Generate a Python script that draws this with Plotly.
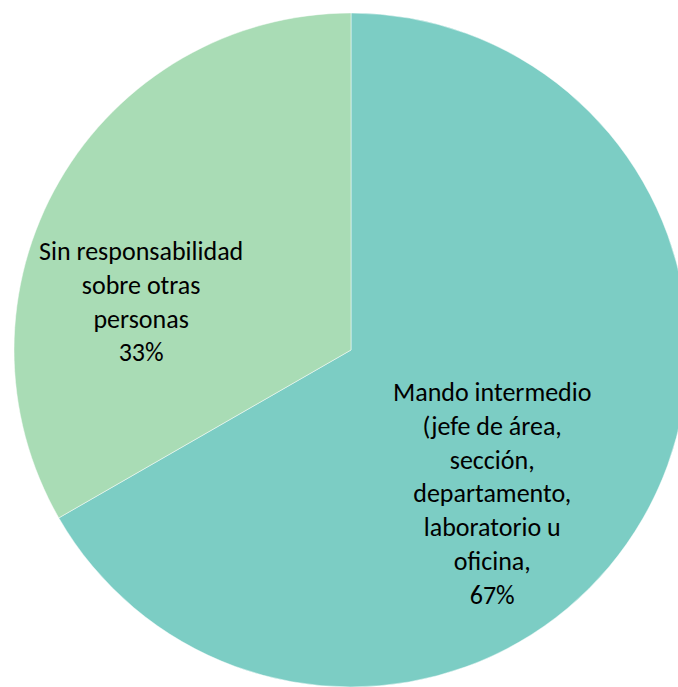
import plotly.graph_objects as go

categories = ["Mando intermedio (jefe de área, sección, departamento, laboratorio u oficina,",
              "Sin responsabilidad sobre otras personas"]
label_lines = [
    ["Mando intermedio", "(jefe de área,", "sección,", "departamento,", "laboratorio u", "oficina,"],
    ["Sin responsabilidad", "sobre otras", "personas"],
]
values = [66.7, 33.3]
colors = ["#7CCDC4", "#A9DCB5"]
label_pos = [(0.7092, 0.2864), (0.1884, 0.5727)]

fig = go.Figure(go.Pie(
    labels=categories,
    values=values,
    sort=False,
    direction="clockwise",
    rotation=0,
    textinfo="none",
    hoverinfo="label+percent",
    marker=dict(colors=colors, line=dict(color="rgba(255,255,255,0.6)", width=0.8)),
    domain=dict(x=[0, 1], y=[0, 1]),
    showlegend=False,
))

total = sum(values)
for lines, v, (x, y) in zip(label_lines, values, label_pos):
    pct = f"{round(100 * v / total)}%"
    txt = "<br>".join(lines) + "<br>" + pct
    fig.add_annotation(
        x=x, y=y, xref="paper", yref="paper",
        text=txt, showarrow=False,
        xanchor="center", yanchor="middle", align="center",
        font=dict(family="Carlito, Lato, sans-serif", size=26, color="#000000"),
    )

fig.update_layout(
    width=702, height=701,
    autosize=False,
    margin=dict(l=14, r=14, t=13, b=14),
    paper_bgcolor="white",
    plot_bgcolor="white",
)

fig.write_html(
    "out.html",
    config={"displayModeBar": False},
    post_script="document.body.style.margin='0';document.body.style.overflow='hidden';document.documentElement.style.overflow='hidden';",
)
